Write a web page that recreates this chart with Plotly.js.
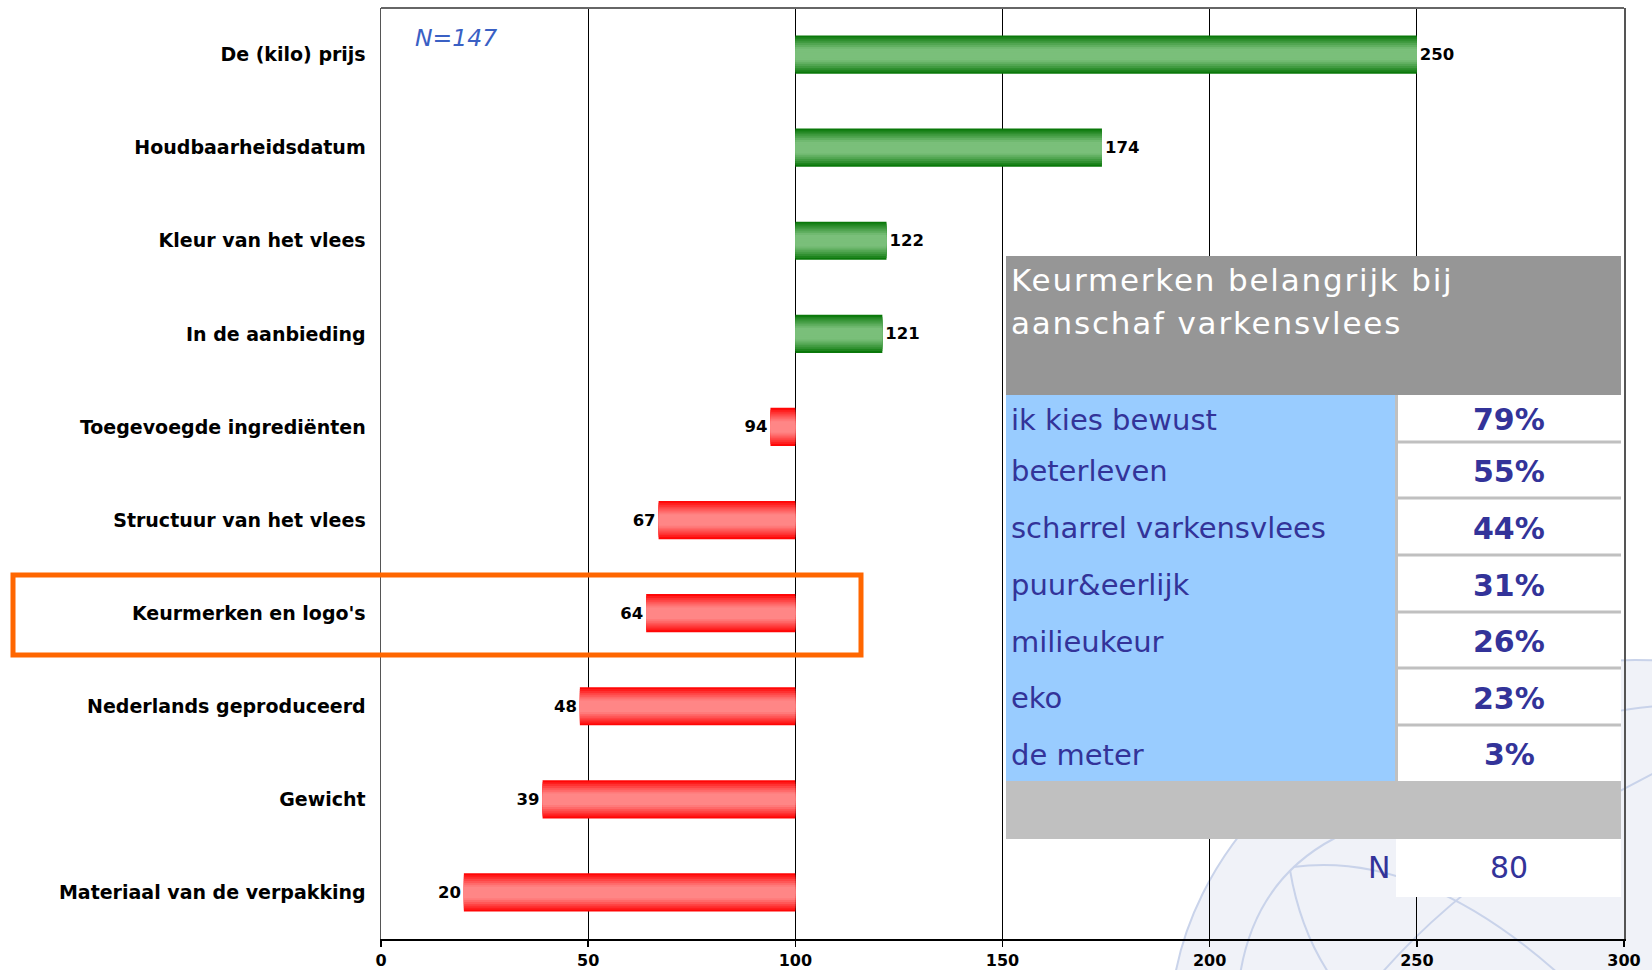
<!DOCTYPE html>
<html>
<head>
<meta charset="utf-8">
<script src="https://cdn.plot.ly/plotly-3.0.1.min.js"></script>
<style>
  html, body { margin: 0; padding: 0; background: #ffffff; }
  #chart { width: 1652px; height: 970px; }
</style>
</head>
<body>
<div id="chart"></div>
<script>
// ---------------- DATA ----------------
const categories = [
  'De (kilo) prijs',
  'Houdbaarheidsdatum',
  'Kleur van het vlees',
  'In de aanbieding',
  'Toegevoegde ingrediënten',
  'Structuur van het vlees',
  "Keurmerken en logo's",
  'Nederlands geproduceerd',
  'Gewicht',
  'Materiaal van de verpakking'
];
const scores = [250, 174, 122, 121, 94, 67, 64, 48, 39, 20];
const baseline = 100;
const xTicks = [0, 50, 100, 150, 200, 250, 300];
const sampleNote = 'N=147';
const highlightCategory = "Keurmerken en logo's";

const tableTitleLines = ['Keurmerken belangrijk bij', 'aanschaf varkensvlees'];
const labelBrands = ['ik kies bewust', 'beterleven', 'scharrel varkensvlees', 'puur&eerlijk', 'milieukeur', 'eko', 'de meter'];
const labelShares = ['79%', '55%', '44%', '31%', '26%', '23%', '3%'];
const tableNLabel = 'N';
const tableNValue = '80';

// ---------------- STYLE / LAYOUT ----------------
const FONT = 'DejaVu Sans, Verdana, sans-serif';
const W = 1652, H = 970;
const L = 381, R = 1624, T = 8, B = 939;
const px = x => (x - L) / (R - L);
const py = y => (B - y) / (B - T);

const greenEdge = [10, 120, 10], greenMid = [122, 191, 122];
const redEdge = [255, 6, 6], redMid = [255, 134, 134];
const mix = (a, b, t) => 'rgb(' + a.map((v, i) => Math.round(v + (b[i] - v) * t)).join(',') + ')';

const NL = 10, fullWidth = 0.41;
const traces = [];
for (let k = 0; k < NL; k++) {
  const t = Math.min(1, Math.pow((k / (NL - 1)) * 1.35, 0.9));
  traces.push({
    type: 'bar',
    orientation: 'h',
    y: categories,
    x: scores.map(v => v - baseline),
    base: baseline,
    width: fullWidth * (1 - k / NL),
    marker: {
      color: scores.map(v => v >= baseline ? mix(greenEdge, greenMid, t) : mix(redEdge, redMid, t)),
      line: { width: 0 }
    },
    text: k === 0 ? scores.map(String) : undefined,
    textposition: 'outside',
    textfont: { family: FONT, size: 16.5, color: '#000', weight: 'bold' },
    cliponaxis: false,
    hoverinfo: 'skip',
    showlegend: false
  });
}

const shapes = [];
const annotations = [];

// watermark globe (bottom right)
const wm = '#c9d3ea';
shapes.push({ type: 'circle', xref: 'paper', yref: 'paper', layer: 'below',
  x0: px(1170), x1: px(2100), y0: py(1400), y1: py(660),
  fillcolor: '#f0f2f8', line: { color: wm, width: 2 } });
const pathPx = (pts) => pts.map(p => typeof p === 'string' ? p : (px(p[0]) + ',' + py(p[1]))).join(' ');
const wmPaths = [
  ['M', [1240, 975], 'Q', [1255, 880], [1335, 838]],
  ['M', [1293, 867], 'Q', [1420, 850], [1560, 975]],
  ['M', [1380, 975], 'Q', [1480, 860], [1660, 770]],
  ['M', [1610, 713], 'Q', [1630, 708], [1660, 706]],
  ['M', [1290, 870], 'Q', [1300, 930], [1330, 975]]
];
wmPaths.forEach(p => shapes.push({ type: 'path', xref: 'paper', yref: 'paper', layer: 'below',
  path: pathPx(p), line: { color: wm, width: 2 } }));

// top border of plot
shapes.push({ type: 'line', xref: 'paper', yref: 'paper', x0: 0, x1: 1, y0: 1, y1: 1,
  line: { color: '#666', width: 2 } });

// table: header
shapes.push({ type: 'rect', xref: 'paper', yref: 'paper', layer: 'above',
  x0: px(1006), x1: px(1621), y0: py(395), y1: py(256), fillcolor: '#969696', line: { width: 0 } });
const titleStart = annotations.length;
tableTitleLines.forEach((ln, i) => annotations.push({ xref: 'paper', yref: 'paper',
  x: px(1009), y: py(280 + i * 43), xanchor: 'left', yanchor: 'middle', showarrow: false,
  text: ln, font: { family: FONT, size: 31, color: '#ffffff' } }));

// table: body
const rowEdges = [395, 442, 498, 555, 612, 668, 725, 781];
shapes.push({ type: 'rect', xref: 'paper', yref: 'paper', layer: 'above',
  x0: px(1006), x1: px(1395), y0: py(781), y1: py(395), fillcolor: '#99ccff', line: { width: 0 } });
shapes.push({ type: 'rect', xref: 'paper', yref: 'paper', layer: 'above',
  x0: px(1395), x1: px(1621), y0: py(781), y1: py(395), fillcolor: '#ffffff', line: { width: 0 } });
shapes.push({ type: 'line', xref: 'paper', yref: 'paper', layer: 'above',
  x0: px(1396.5), x1: px(1396.5), y0: py(781), y1: py(395), line: { color: '#c0c0c0', width: 3 } });
labelBrands.forEach((b, i) => {
  const yc = (rowEdges[i] + rowEdges[i + 1]) / 2 + 1.5;
  annotations.push({ xref: 'paper', yref: 'paper', x: px(1009), y: py(yc), xanchor: 'left', yanchor: 'middle',
    showarrow: false, text: b, font: { family: FONT, size: 29, color: '#333399' } });
  annotations.push({ xref: 'paper', yref: 'paper', x: px(1509), y: py(yc), xanchor: 'center', yanchor: 'middle',
    showarrow: false, text: labelShares[i], font: { family: FONT, size: 30, color: '#333399', weight: 'bold' } });
  if (i < labelBrands.length - 1) {
    shapes.push({ type: 'line', xref: 'paper', yref: 'paper', layer: 'above',
      x0: px(1398), x1: px(1621), y0: py(rowEdges[i + 1]), y1: py(rowEdges[i + 1]), line: { color: '#c0c0c0', width: 3 } });
  }
});
// footer gray band
shapes.push({ type: 'rect', xref: 'paper', yref: 'paper', layer: 'above',
  x0: px(1006), x1: px(1621), y0: py(839), y1: py(781), fillcolor: '#c0c0c0', line: { width: 0 } });
// N row
shapes.push({ type: 'rect', xref: 'paper', yref: 'paper', layer: 'above',
  x0: px(1396), x1: px(1621), y0: py(897), y1: py(839), fillcolor: '#ffffff', line: { width: 0 } });
annotations.push({ xref: 'paper', yref: 'paper', x: px(1392), y: py(867), xanchor: 'right', yanchor: 'middle',
  showarrow: false, text: tableNLabel, font: { family: FONT, size: 30, color: '#333399' } });
annotations.push({ xref: 'paper', yref: 'paper', x: px(1509), y: py(867), xanchor: 'center', yanchor: 'middle',
  showarrow: false, text: tableNValue, font: { family: FONT, size: 30, color: '#333399' } });

// N=147 note
annotations.push({ xref: 'paper', yref: 'paper', x: px(413), y: py(38), xanchor: 'left', yanchor: 'middle',
  showarrow: false, text: '<i>' + sampleNote + '</i>', font: { family: FONT, size: 23.5, color: '#3a60c4' } });

// highlight box around one category row
const hi = categories.indexOf(highlightCategory);
shapes.push({ type: 'rect', xref: 'paper', yref: 'y', layer: 'above',
  x0: px(13), x1: px(861), y0: hi - 0.41, y1: hi + 0.45,
  fillcolor: 'rgba(0,0,0,0)', line: { color: '#ff6600', width: 5 } });

const layout = {
  width: W, height: H,
  margin: { l: L, r: W - R, t: T, b: H - B, pad: 0 },
  paper_bgcolor: '#ffffff',
  plot_bgcolor: 'rgba(0,0,0,0)',
  barmode: 'overlay',
  showlegend: false,
  font: { family: FONT, color: '#000' },
  xaxis: {
    range: [0, 300], tickvals: xTicks, ticktext: xTicks.map(String),
    showgrid: true, gridcolor: '#000', gridwidth: 1,
    showline: true, linecolor: '#000', linewidth: 2,
    ticks: 'outside', ticklen: 6, tickcolor: '#000', tickwidth: 1.5,
    tickfont: { family: FONT, size: 16, color: '#000', weight: 'bold' },
    zeroline: false, fixedrange: true
  },
  yaxis: {
    type: 'category', categoryorder: 'array', categoryarray: categories,
    range: [categories.length - 0.5, -0.5],
    showgrid: false, showline: true, linecolor: '#555', linewidth: 1.5, mirror: true,
    ticks: '', ticklabelstandoff: 10,
    tickfont: { family: FONT, size: 19, color: '#000', weight: 'bold' },
    zeroline: false, fixedrange: true
  },
  shapes: shapes,
  annotations: annotations
};

Plotly.newPlot('chart', traces, layout, { staticPlot: true, displayModeBar: false }).then(gd => {
  // widen letter spacing of the table title lines, keeping their left edge fixed
  gd.querySelectorAll('.annotation').forEach(g => {
    const idx = +g.getAttribute('data-index');
    if (idx >= titleStart && idx < titleStart + tableTitleLines.length) {
      const txt = g.querySelector('text.annotation-text');
      if (!txt) return;
      const bb = txt.getBBox();
      txt.setAttribute('text-anchor', 'start');
      txt.setAttribute('x', bb.x);
      txt.style.letterSpacing = '1.8px';
      txt.querySelectorAll('tspan').forEach(ts => { if (ts.hasAttribute('x')) ts.setAttribute('x', bb.x); });
    }
  });
});
</script>
</body>
</html>
